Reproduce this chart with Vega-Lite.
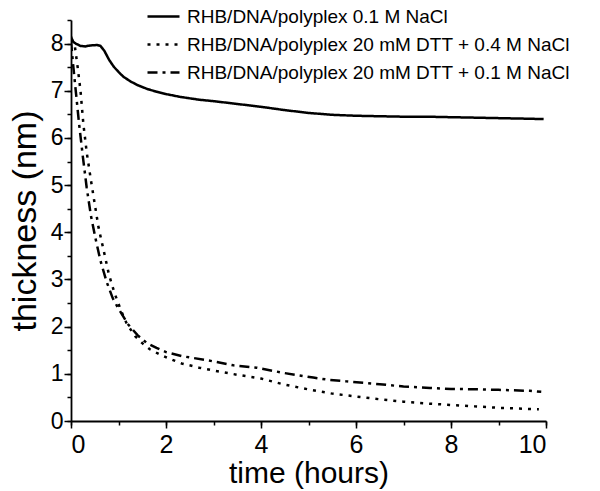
{
  "$schema": "https://vega.github.io/schema/vega-lite/v6.json",
  "width": 475,
  "height": 401,
  "autosize": {"type": "none"},
  "padding": {"left": 71, "top": 20, "right": 54, "bottom": 70},
  "background": "white",
  "config": {
    "view": {"stroke": null},
    "axis": {"grid": false, "domainColor": "black", "tickColor": "black", "domainWidth": 1.8, "tickWidth": 1.5, "labelColor": "black", "titleColor": "black", "labelFont": "Liberation Sans", "titleFont": "Liberation Sans", "titleFontWeight": "normal"}
  },
  "datasets": {
    "curves": [
      {"series": "RHB/DNA/polyplex 0.1 M NaCl", "t": 0, "v": 8.15},
      {"series": "RHB/DNA/polyplex 0.1 M NaCl", "t": 0.03, "v": 8.05},
      {"series": "RHB/DNA/polyplex 0.1 M NaCl", "t": 0.1, "v": 8.0},
      {"series": "RHB/DNA/polyplex 0.1 M NaCl", "t": 0.2, "v": 7.95},
      {"series": "RHB/DNA/polyplex 0.1 M NaCl", "t": 0.3, "v": 7.94},
      {"series": "RHB/DNA/polyplex 0.1 M NaCl", "t": 0.4, "v": 7.96},
      {"series": "RHB/DNA/polyplex 0.1 M NaCl", "t": 0.55, "v": 7.97},
      {"series": "RHB/DNA/polyplex 0.1 M NaCl", "t": 0.62, "v": 7.95},
      {"series": "RHB/DNA/polyplex 0.1 M NaCl", "t": 0.7, "v": 7.85},
      {"series": "RHB/DNA/polyplex 0.1 M NaCl", "t": 0.8, "v": 7.66},
      {"series": "RHB/DNA/polyplex 0.1 M NaCl", "t": 0.9, "v": 7.51},
      {"series": "RHB/DNA/polyplex 0.1 M NaCl", "t": 1.0, "v": 7.4},
      {"series": "RHB/DNA/polyplex 0.1 M NaCl", "t": 1.1, "v": 7.3},
      {"series": "RHB/DNA/polyplex 0.1 M NaCl", "t": 1.25, "v": 7.2},
      {"series": "RHB/DNA/polyplex 0.1 M NaCl", "t": 1.4, "v": 7.12},
      {"series": "RHB/DNA/polyplex 0.1 M NaCl", "t": 1.6, "v": 7.04},
      {"series": "RHB/DNA/polyplex 0.1 M NaCl", "t": 1.8, "v": 6.98},
      {"series": "RHB/DNA/polyplex 0.1 M NaCl", "t": 2.0, "v": 6.93},
      {"series": "RHB/DNA/polyplex 0.1 M NaCl", "t": 2.3, "v": 6.87},
      {"series": "RHB/DNA/polyplex 0.1 M NaCl", "t": 2.7, "v": 6.81},
      {"series": "RHB/DNA/polyplex 0.1 M NaCl", "t": 3.0, "v": 6.78},
      {"series": "RHB/DNA/polyplex 0.1 M NaCl", "t": 3.5, "v": 6.72},
      {"series": "RHB/DNA/polyplex 0.1 M NaCl", "t": 4.0, "v": 6.66},
      {"series": "RHB/DNA/polyplex 0.1 M NaCl", "t": 4.5, "v": 6.59},
      {"series": "RHB/DNA/polyplex 0.1 M NaCl", "t": 5.0, "v": 6.53},
      {"series": "RHB/DNA/polyplex 0.1 M NaCl", "t": 5.5, "v": 6.49},
      {"series": "RHB/DNA/polyplex 0.1 M NaCl", "t": 6.0, "v": 6.47},
      {"series": "RHB/DNA/polyplex 0.1 M NaCl", "t": 6.5, "v": 6.46},
      {"series": "RHB/DNA/polyplex 0.1 M NaCl", "t": 7.0, "v": 6.45},
      {"series": "RHB/DNA/polyplex 0.1 M NaCl", "t": 7.5, "v": 6.45},
      {"series": "RHB/DNA/polyplex 0.1 M NaCl", "t": 8.0, "v": 6.44},
      {"series": "RHB/DNA/polyplex 0.1 M NaCl", "t": 8.5, "v": 6.43},
      {"series": "RHB/DNA/polyplex 0.1 M NaCl", "t": 9.0, "v": 6.42},
      {"series": "RHB/DNA/polyplex 0.1 M NaCl", "t": 9.5, "v": 6.41},
      {"series": "RHB/DNA/polyplex 0.1 M NaCl", "t": 9.95, "v": 6.4},
      {"series": "RHB/DNA/polyplex 20 mM DTT + 0.4 M NaCl", "t": 0.02, "v": 8.1},
      {"series": "RHB/DNA/polyplex 20 mM DTT + 0.4 M NaCl", "t": 0.08, "v": 7.95},
      {"series": "RHB/DNA/polyplex 20 mM DTT + 0.4 M NaCl", "t": 0.14, "v": 7.5},
      {"series": "RHB/DNA/polyplex 20 mM DTT + 0.4 M NaCl", "t": 0.2, "v": 7.0},
      {"series": "RHB/DNA/polyplex 20 mM DTT + 0.4 M NaCl", "t": 0.26, "v": 6.3},
      {"series": "RHB/DNA/polyplex 20 mM DTT + 0.4 M NaCl", "t": 0.33, "v": 5.7},
      {"series": "RHB/DNA/polyplex 20 mM DTT + 0.4 M NaCl", "t": 0.42, "v": 5.1},
      {"series": "RHB/DNA/polyplex 20 mM DTT + 0.4 M NaCl", "t": 0.5, "v": 4.6},
      {"series": "RHB/DNA/polyplex 20 mM DTT + 0.4 M NaCl", "t": 0.58, "v": 4.1},
      {"series": "RHB/DNA/polyplex 20 mM DTT + 0.4 M NaCl", "t": 0.68, "v": 3.65},
      {"series": "RHB/DNA/polyplex 20 mM DTT + 0.4 M NaCl", "t": 0.8, "v": 3.1},
      {"series": "RHB/DNA/polyplex 20 mM DTT + 0.4 M NaCl", "t": 0.92, "v": 2.7},
      {"series": "RHB/DNA/polyplex 20 mM DTT + 0.4 M NaCl", "t": 1.05, "v": 2.35},
      {"series": "RHB/DNA/polyplex 20 mM DTT + 0.4 M NaCl", "t": 1.18, "v": 2.05},
      {"series": "RHB/DNA/polyplex 20 mM DTT + 0.4 M NaCl", "t": 1.35, "v": 1.8},
      {"series": "RHB/DNA/polyplex 20 mM DTT + 0.4 M NaCl", "t": 1.5, "v": 1.65},
      {"series": "RHB/DNA/polyplex 20 mM DTT + 0.4 M NaCl", "t": 1.66, "v": 1.52},
      {"series": "RHB/DNA/polyplex 20 mM DTT + 0.4 M NaCl", "t": 1.85, "v": 1.42},
      {"series": "RHB/DNA/polyplex 20 mM DTT + 0.4 M NaCl", "t": 2.05, "v": 1.33},
      {"series": "RHB/DNA/polyplex 20 mM DTT + 0.4 M NaCl", "t": 2.33, "v": 1.22},
      {"series": "RHB/DNA/polyplex 20 mM DTT + 0.4 M NaCl", "t": 2.7, "v": 1.13},
      {"series": "RHB/DNA/polyplex 20 mM DTT + 0.4 M NaCl", "t": 3.0, "v": 1.07},
      {"series": "RHB/DNA/polyplex 20 mM DTT + 0.4 M NaCl", "t": 3.5, "v": 0.98},
      {"series": "RHB/DNA/polyplex 20 mM DTT + 0.4 M NaCl", "t": 4.0, "v": 0.9},
      {"series": "RHB/DNA/polyplex 20 mM DTT + 0.4 M NaCl", "t": 4.5, "v": 0.77},
      {"series": "RHB/DNA/polyplex 20 mM DTT + 0.4 M NaCl", "t": 5.0, "v": 0.67},
      {"series": "RHB/DNA/polyplex 20 mM DTT + 0.4 M NaCl", "t": 5.5, "v": 0.58},
      {"series": "RHB/DNA/polyplex 20 mM DTT + 0.4 M NaCl", "t": 6.0, "v": 0.52},
      {"series": "RHB/DNA/polyplex 20 mM DTT + 0.4 M NaCl", "t": 6.5, "v": 0.46},
      {"series": "RHB/DNA/polyplex 20 mM DTT + 0.4 M NaCl", "t": 7.0, "v": 0.41},
      {"series": "RHB/DNA/polyplex 20 mM DTT + 0.4 M NaCl", "t": 7.5, "v": 0.37},
      {"series": "RHB/DNA/polyplex 20 mM DTT + 0.4 M NaCl", "t": 8.0, "v": 0.34},
      {"series": "RHB/DNA/polyplex 20 mM DTT + 0.4 M NaCl", "t": 8.5, "v": 0.31},
      {"series": "RHB/DNA/polyplex 20 mM DTT + 0.4 M NaCl", "t": 9.0, "v": 0.28},
      {"series": "RHB/DNA/polyplex 20 mM DTT + 0.4 M NaCl", "t": 9.5, "v": 0.26},
      {"series": "RHB/DNA/polyplex 20 mM DTT + 0.4 M NaCl", "t": 9.85, "v": 0.25},
      {"series": "RHB/DNA/polyplex 20 mM DTT + 0.1 M NaCl", "t": 0.0, "v": 8.05},
      {"series": "RHB/DNA/polyplex 20 mM DTT + 0.1 M NaCl", "t": 0.04, "v": 7.6},
      {"series": "RHB/DNA/polyplex 20 mM DTT + 0.1 M NaCl", "t": 0.1, "v": 7.0},
      {"series": "RHB/DNA/polyplex 20 mM DTT + 0.1 M NaCl", "t": 0.17, "v": 6.3},
      {"series": "RHB/DNA/polyplex 20 mM DTT + 0.1 M NaCl", "t": 0.25, "v": 5.6},
      {"series": "RHB/DNA/polyplex 20 mM DTT + 0.1 M NaCl", "t": 0.33, "v": 4.95},
      {"series": "RHB/DNA/polyplex 20 mM DTT + 0.1 M NaCl", "t": 0.42, "v": 4.35},
      {"series": "RHB/DNA/polyplex 20 mM DTT + 0.1 M NaCl", "t": 0.52, "v": 3.85},
      {"series": "RHB/DNA/polyplex 20 mM DTT + 0.1 M NaCl", "t": 0.62, "v": 3.4},
      {"series": "RHB/DNA/polyplex 20 mM DTT + 0.1 M NaCl", "t": 0.75, "v": 2.95},
      {"series": "RHB/DNA/polyplex 20 mM DTT + 0.1 M NaCl", "t": 0.88, "v": 2.6},
      {"series": "RHB/DNA/polyplex 20 mM DTT + 0.1 M NaCl", "t": 1.0, "v": 2.38},
      {"series": "RHB/DNA/polyplex 20 mM DTT + 0.1 M NaCl", "t": 1.2, "v": 2.05},
      {"series": "RHB/DNA/polyplex 20 mM DTT + 0.1 M NaCl", "t": 1.4, "v": 1.82},
      {"series": "RHB/DNA/polyplex 20 mM DTT + 0.1 M NaCl", "t": 1.6, "v": 1.65},
      {"series": "RHB/DNA/polyplex 20 mM DTT + 0.1 M NaCl", "t": 1.8, "v": 1.55},
      {"series": "RHB/DNA/polyplex 20 mM DTT + 0.1 M NaCl", "t": 2.0, "v": 1.46},
      {"series": "RHB/DNA/polyplex 20 mM DTT + 0.1 M NaCl", "t": 2.36, "v": 1.37},
      {"series": "RHB/DNA/polyplex 20 mM DTT + 0.1 M NaCl", "t": 2.86, "v": 1.29},
      {"series": "RHB/DNA/polyplex 20 mM DTT + 0.1 M NaCl", "t": 3.42, "v": 1.18},
      {"series": "RHB/DNA/polyplex 20 mM DTT + 0.1 M NaCl", "t": 3.91, "v": 1.13},
      {"series": "RHB/DNA/polyplex 20 mM DTT + 0.1 M NaCl", "t": 4.47, "v": 1.02},
      {"series": "RHB/DNA/polyplex 20 mM DTT + 0.1 M NaCl", "t": 5.1, "v": 0.92},
      {"series": "RHB/DNA/polyplex 20 mM DTT + 0.1 M NaCl", "t": 5.45, "v": 0.87},
      {"series": "RHB/DNA/polyplex 20 mM DTT + 0.1 M NaCl", "t": 5.8, "v": 0.84},
      {"series": "RHB/DNA/polyplex 20 mM DTT + 0.1 M NaCl", "t": 6.5, "v": 0.78},
      {"series": "RHB/DNA/polyplex 20 mM DTT + 0.1 M NaCl", "t": 7.0, "v": 0.73},
      {"series": "RHB/DNA/polyplex 20 mM DTT + 0.1 M NaCl", "t": 7.56, "v": 0.7},
      {"series": "RHB/DNA/polyplex 20 mM DTT + 0.1 M NaCl", "t": 8.0, "v": 0.68},
      {"series": "RHB/DNA/polyplex 20 mM DTT + 0.1 M NaCl", "t": 8.6, "v": 0.67},
      {"series": "RHB/DNA/polyplex 20 mM DTT + 0.1 M NaCl", "t": 9.0, "v": 0.66},
      {"series": "RHB/DNA/polyplex 20 mM DTT + 0.1 M NaCl", "t": 9.66, "v": 0.64},
      {"series": "RHB/DNA/polyplex 20 mM DTT + 0.1 M NaCl", "t": 9.9, "v": 0.62}
    ]
  },
  "data": {"name": "curves"},
  "layer": [
    {
      "transform": [{"filter": "datum.series === 'RHB/DNA/polyplex 0.1 M NaCl'"}],
      "mark": {"type": "line", "color": "black", "strokeWidth": 2.5, "clip": true},
      "encoding": {
        "x": {"field": "t", "type": "quantitative", "scale": {"domain": [0, 10], "nice": false},
          "axis": {"orient": "bottom", "values": [0,1,2,3,4,5,6,7,8,9,10], "labels": false, "title": null, "tickSize": 4, "domain": false}},
        "y": {"field": "v", "type": "quantitative", "scale": {"domain": [0, 8.5], "nice": false, "zero": false},
          "axis": {"orient": "left", "values": [0,0.5,1,1.5,2,2.5,3,3.5,4,4.5,5,5.5,6,6.5,7,7.5,8,8.5], "labels": false, "title": null, "tickSize": 4, "domain": false}},
        "strokeDash": {"field": "series", "type": "nominal",
          "scale": {"domain": ["RHB/DNA/polyplex 0.1 M NaCl", "RHB/DNA/polyplex 20 mM DTT + 0.4 M NaCl", "RHB/DNA/polyplex 20 mM DTT + 0.1 M NaCl"], "range": [[1, 0], [3, 6], [10, 5, 3, 5]]},
          "legend": {"orient": "none", "legendX": 75, "legendY": -21, "title": null, "symbolType": "stroke", "symbolSize": 1024, "symbolStrokeWidth": 2.5, "symbolStrokeColor": "black", "labelFont": "Liberation Sans", "labelFontSize": 19, "labelColor": "black", "labelLimit": 500, "labelOffset": 6, "rowPadding": -4, "padding": 0}}
      }
    },
    {
      "transform": [{"filter": "datum.series !== 'RHB/DNA/polyplex 0.1 M NaCl'"}],
      "mark": {"type": "line", "color": "black", "strokeWidth": 2.5, "clip": true},
      "encoding": {
        "x": {"field": "t", "type": "quantitative",
          "axis": {"orient": "bottom", "values": [0,2,4,6,8,10], "title": "time (hours)", "tickSize": 7, "labelFontSize": 25, "labelPadding": 4, "titleFontSize": 30, "titleY": 61, "titleBaseline": "alphabetic"}},
        "y": {"field": "v", "type": "quantitative",
          "axis": {"orient": "left", "values": [0,1,2,3,4,5,6,7,8], "title": "thickness (nm)", "tickSize": 7, "labelFontSize": 23, "labelPadding": 1, "titleFontSize": 34, "titleX": -46, "titleY": 200.5, "titleAngle": -90, "titleAlign": "center", "titleBaseline": "middle"}},
        "strokeDash": {"field": "series", "type": "nominal"}
      }
    }
  ],
  "resolve": {"axis": {"x": "independent", "y": "independent"}}
}
